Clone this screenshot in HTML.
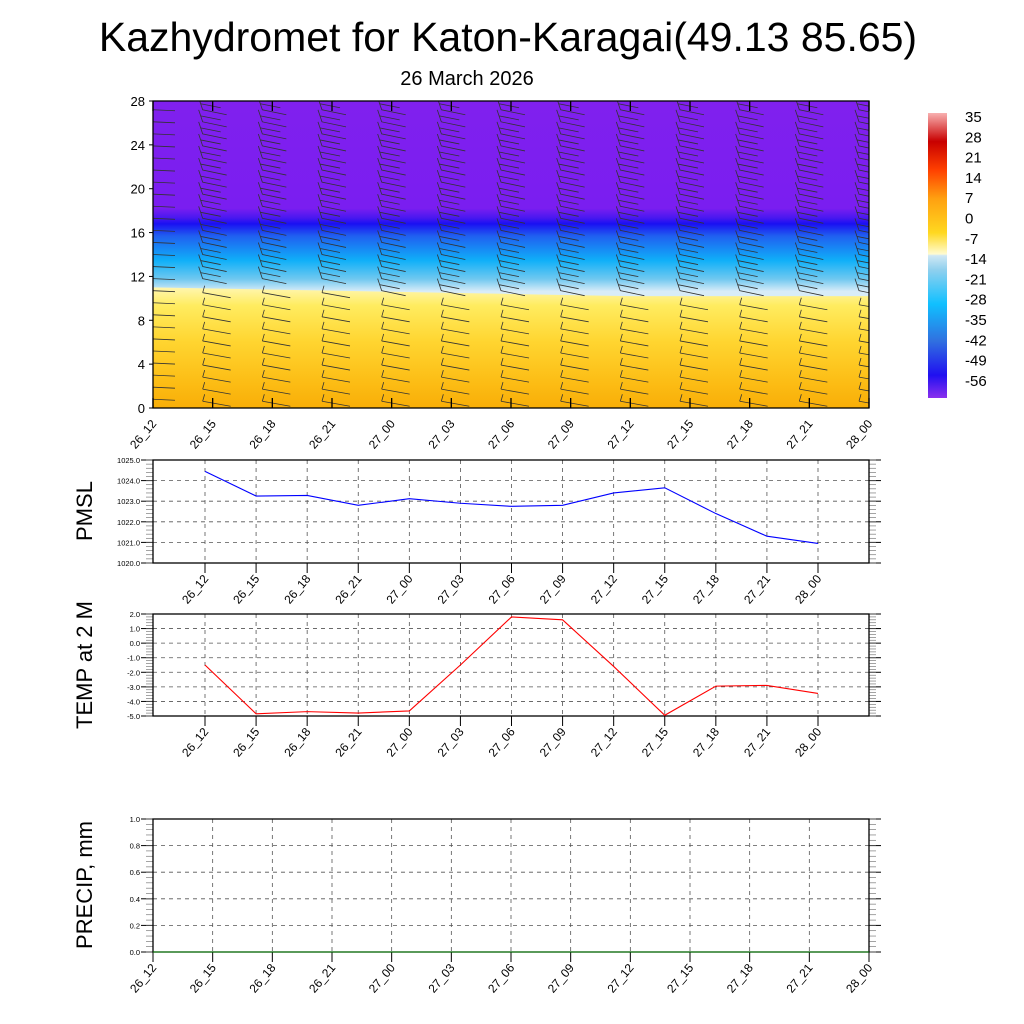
<!DOCTYPE html>
<html><head><meta charset="utf-8"><style>
body{margin:0;background:#fff}
svg{display:block;font-family:"Liberation Sans",sans-serif}
</style></head><body>
<svg id="s" width="1024" height="1024" viewBox="0 0 1024 1024">
<defs>
<clipPath id="topClip"><rect x="153" y="101" width="716" height="307"/></clipPath>
<linearGradient id="gTop" x1="0" y1="0" x2="0" y2="1">
<stop offset="0" stop-color="#8020ee"/>
<stop offset="0.35" stop-color="#7a1ef0"/>
<stop offset="0.38" stop-color="#4a18f0"/>
<stop offset="0.40" stop-color="#1a10f2"/>
<stop offset="0.44" stop-color="#2060f0"/>
<stop offset="0.52" stop-color="#10b0f8"/>
<stop offset="0.58" stop-color="#70c8f0"/>
<stop offset="0.62" stop-color="#d8ecf8"/>
<stop offset="1" stop-color="#d8ecf8"/>
</linearGradient>
<linearGradient id="gBot" x1="0" y1="0" x2="0" y2="1">
<stop offset="0" stop-color="#fff6b0"/>
<stop offset="0.15" stop-color="#ffec60"/>
<stop offset="0.45" stop-color="#ffd530"/>
<stop offset="0.8" stop-color="#fcbc14"/>
<stop offset="1" stop-color="#f8ae08"/>
</linearGradient>
<linearGradient id="gBar" x1="0" y1="1" x2="0" y2="0">
<stop offset="0" stop-color="#8a30ee"/>
<stop offset="0.08" stop-color="#2010f0"/>
<stop offset="0.2" stop-color="#3070e0"/>
<stop offset="0.33" stop-color="#10c0ff"/>
<stop offset="0.45" stop-color="#90d0ee"/>
<stop offset="0.5" stop-color="#d0e8f4"/>
<stop offset="0.505" stop-color="#fffbd0"/>
<stop offset="0.58" stop-color="#ffd820"/>
<stop offset="0.7" stop-color="#ffa010"/>
<stop offset="0.8" stop-color="#ff4000"/>
<stop offset="0.9" stop-color="#c80000"/>
<stop offset="1" stop-color="#f8b0b0"/>
</linearGradient>
</defs>
<text x="508" y="51" font-size="41" text-anchor="middle">Kazhydromet for Katon-Karagai(49.13 85.65)</text>
<text x="467" y="85" font-size="20" text-anchor="middle">26 March 2026</text>
<g id="top"></g>
<g id="cbar"></g>
<g id="p1"></g>
<g id="p2"></g>
<g id="p3"></g>
</svg>
<script>
const timeLabels=["26_12","26_15","26_18","26_21","27_00","27_03","27_06","27_09","27_12","27_15","27_18","27_21","28_00"];
const pmslValues=[1024.45,1023.25,1023.28,1022.8,1023.12,1022.9,1022.75,1022.8,1023.4,1023.65,1022.4,1021.3,1020.95];
const tempValues=[-1.5,-4.85,-4.7,-4.8,-4.65,-1.5,1.8,1.6,-1.6,-4.95,-2.95,-2.9,-3.45];
const precipValues=[0,0,0,0,0,0,0,0,0,0,0,0,0];
const heightTicks=[0,4,8,12,16,20,24,28];
const pmslTicks=[1020,1021,1022,1023,1024,1025];
const tempTicks=[-5,-4,-3,-2,-1,0,1,2];
const precipTicks=[0,0.2,0.4,0.6,0.8,1.0];
const freezeHeight=[11,10.9,10.8,10.7,10.6,10.5,10.4,10.3,10.2,10.2,10.2,10.2,10.2];
const cbarLabels=[35,28,21,14,7,0,-7,-14,-21,-28,-35,-42,-49,-56];
const NS="http://www.w3.org/2000/svg";
function mk(p,t,a,txt){const e=document.createElementNS(NS,t);for(const k in a)e.setAttribute(k,a[k]);if(txt!==undefined)e.textContent=txt;p.appendChild(e);return e;}

const T=document.getElementById('top');
const tx0=153,tx1=869,ty0=101,ty1=408;
const txs=i=>tx0+(tx1-tx0)*i/(timeLabels.length-1);
const tys=v=>ty1-(ty1-ty0)*v/28;
let e=mk(T,'rect',{x:tx0,y:ty0,width:tx1-tx0,height:ty1-ty0,fill:'url(#gTop)'});

let pts=timeLabels.map((_,i)=>txs(i)+','+tys(freezeHeight[i])).join(' ');
e=mk(T,'polygon',{points:pts+` ${tx1},${ty1} ${tx0},${ty1}`,fill:'url(#gBot)'});

const bg=mk(T,'g',{stroke:'#333','stroke-width':0.8,fill:'none','clip-path':'url(#topClip)'});
for(let i=0;i<timeLabels.length;i++){
  for(let h=0.8;h<28;h+=1.1){
    const x=txs(i),y=tys(h);
    if(i===0){mk(bg,'line',{x1:x,y1:y,x2:x+22,y2:y+1});continue;}
    const hi=h>freezeHeight[i];
    if(hi){
      mk(bg,'path',{d:`M${x-14},${y-12} L${x-10},${y} L${x+14},${y+5} M${x-12},${y-6} L${x+8},${y-2}`});
    }else{
      mk(bg,'path',{d:`M${x-10},${y+2} L${x+18},${y+7} M${x-8},${y-5} L${x-10},${y+2}`});
    }
  }
}
mk(T,'rect',{x:tx0,y:ty0,width:tx1-tx0,height:ty1-ty0,fill:'none',stroke:'#000','stroke-width':1.3});
heightTicks.forEach(v=>{const y=tys(v);mk(T,'line',{x1:tx0,y1:y,x2:tx0-4,y2:y,stroke:'#000'});
 e=mk(T,'text',{x:tx0-8,y:y+5,'font-size':13,'text-anchor':'end'},v);
 });
timeLabels.forEach((l,i)=>{const x=txs(i);mk(T,'line',{x1:x,y1:ty1,x2:x,y2:ty1-10,stroke:'#000','stroke-width':1.3});mk(T,'line',{x1:x,y1:ty0,x2:x,y2:ty0+10,stroke:'#000','stroke-width':1.3});
 e=mk(T,'text',{x:x+4,y:ty1+16,'font-size':12,'text-anchor':'end',transform:`rotate(-50 ${x+4} ${ty1+16})`},l);
 });

const C=document.getElementById('cbar');
mk(C,'rect',{x:928,y:113,width:19,height:285,fill:'url(#gBar)'});
cbarLabels.forEach((v,i)=>{e=mk(C,'text',{x:965,y:122+i*20.3,'font-size':15},v);
 });

function linePanel(g,y0,y1,x0,x1,xs0,xs1,lo,hi,ticks,vals,color,ylabel,ylabelY){
  const xs=i=>xs0+(xs1-xs0)*i/(timeLabels.length-1);
  const ys=v=>y1-(y1-y0)*(v-lo)/(hi-lo);
  ticks.forEach(v=>{const y=ys(v);
    if(v>lo&&v<hi)mk(g,'line',{x1:x0,y1:y,x2:x1,y2:y,stroke:'#555','stroke-dasharray':'4,4','stroke-width':0.8});
    mk(g,'line',{x1:x0,y1:y,x2:x0-12,y2:y,stroke:'#000'});mk(g,'line',{x1:x1,y1:y,x2:x1+12,y2:y,stroke:'#000'});
    e=mk(g,'text',{x:x0-13,y:y+3,'font-size':7.5,'text-anchor':'end'},v.toFixed(1));
    });
  const n=(ticks.length-1)*5;
  for(let k=0;k<=n;k++){const y=y0+(y1-y0)*k/n;
    mk(g,'line',{x1:x0,y1:y,x2:x0-7,y2:y,stroke:'#666','stroke-width':0.6});mk(g,'line',{x1:x1,y1:y,x2:x1+7,y2:y,stroke:'#666','stroke-width':0.6});}
  timeLabels.forEach((l,i)=>{const x=xs(i);
    mk(g,'line',{x1:x,y1:y0,x2:x,y2:y1,stroke:'#555','stroke-dasharray':'4,4','stroke-width':0.8});
    mk(g,'line',{x1:x,y1:y1,x2:x,y2:y1+10,stroke:'#000'});
    e=mk(g,'text',{x:x+4,y:y1+16,'font-size':12,'text-anchor':'end',transform:`rotate(-50 ${x+4} ${y1+16})`},l);
    });
  mk(g,'rect',{x:x0,y:y0,width:x1-x0,height:y1-y0,fill:'none',stroke:'#000','stroke-width':1.3});
  e=mk(g,'polyline',{points:vals.map((v,i)=>xs(i)+','+ys(v)).join(' '),fill:'none',stroke:color,'stroke-width':1.1});
  
  e=mk(g,'text',{x:0,y:0,'font-size':22,'text-anchor':'middle',transform:`translate(92 ${ylabelY}) rotate(-90)`},ylabel);
  
}
linePanel(document.getElementById('p1'),460,563,153,869,205,818,1020,1025,pmslTicks,pmslValues,'#0000ff','PMSL',511);
linePanel(document.getElementById('p2'),614,716,153,869,205,818,-5,2,tempTicks,tempValues,'#ff0000','TEMP at 2 M',665);
linePanel(document.getElementById('p3'),819,952,153,869,153,869,0,1,precipTicks,precipValues,'#008000','PRECIP, mm',885);
</script>
</body></html>
